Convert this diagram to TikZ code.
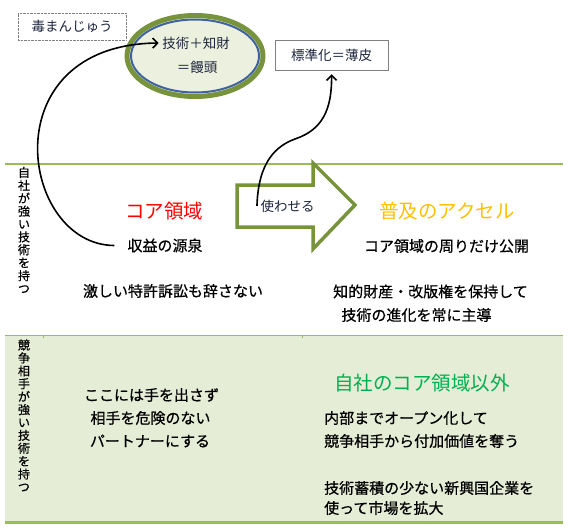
\documentclass[tikz,border=0pt]{standalone}
\usepackage{fontspec}
\setmainfont{Noto Sans CJK JP}
\newfontfamily\gothic{Noto Sans CJK JP}[FakeBold=0.6]
\usetikzlibrary{arrows.meta}
\definecolor{linegreen}{RGB}{155,187,89}
\definecolor{olivegreen}{RGB}{119,147,60}
\definecolor{bandfill}{RGB}{230,237,214}
\definecolor{ovalfill}{RGB}{235,241,222}
\definecolor{ovalblue}{RGB}{64,98,160}
\definecolor{inkblue}{RGB}{28,36,60}
\definecolor{coretitle}{RGB}{255,0,0}
\definecolor{acceltitle}{RGB}{255,192,0}
\definecolor{othertitle}{RGB}{0,176,80}

\begin{document}
\begin{tikzpicture}[x=1pt,y=-1pt,
  labelbox/.style={draw=gray,thin,inner sep=0pt,text=inkblue,
    font=\fontsize{13.5}{16}\selectfont},
  body/.style={font=\gothic\fontsize{15}{18}\selectfont,inner sep=0pt},
  title/.style={font=\fontsize{19.5}{22}\selectfont,inner sep=0pt},
  side/.style={font=\gothic\fontsize{12}{12.9}\selectfont,align=center,inner sep=0pt},
  curvearrow/.style={line width=1.6,-{Straight Barb[length=5pt,width=10pt]}}]
\useasboundingbox (0,0) rectangle (568,530);
% Draw the lower band and the rules
\fill[bandfill] (5,335) rectangle (563,522);
\draw[linegreen,line width=2] (5,163.5) -- (563,163.5);
\draw[linegreen,line width=1.5] (5,335.5) -- (563,335.5);
\draw[linegreen,line width=3] (5,522) -- (563,522);
\draw[linegreen,thin] (43,335) -- (43,338);
\draw[linegreen,thin] (302,335) -- (302,338);
% Draw the bun and the two boxes
\draw[olivegreen,line width=5,fill=ovalfill] (195,56) ellipse (68 and 40.5);
\draw[ovalblue,line width=2] (195,56) ellipse (64 and 36.5);
\node[text=inkblue,font=\fontsize{13.5}{16}\selectfont] (chizai) at (196,43) {技術＋知財};
\node[text=inkblue,font=\fontsize{13.5}{16}\selectfont] (manju) at (197,67) {＝饅頭};
\node[labelbox,densely dotted,minimum width=108,minimum height=27] (doku) at (72,26.5) {毒まんじゅう};
\node[labelbox,minimum width=113,minimum height=30] (usukawa) at (331.5,55) {標準化＝薄皮};
% Draw the block arrow
\draw[olivegreen,line width=3.5,fill=white,line join=miter]
  (237,185) -- (313,185) -- (313,163) -- (355,205) -- (313,249) -- (313,227) -- (237,227) -- cycle;
\node[text=inkblue,font=\fontsize{13.5}{16}\selectfont] (tsukawaseru) at (287.5,206) {使わせる};
% Side labels
\node[side] (jisha) at (24,230) {自\\社\\が\\強\\い\\技\\術\\を\\持\\つ};
\node[side] (kyoso) at (24,415.5) {競\\争\\相\\手\\が\\強\\い\\技\\術\\を\\持\\つ};
% Upper row
\node[title,text=coretitle] (core) at (164,211) {コア領域};
\node[title,text=acceltitle] (accel) at (447,211) {普及のアクセル};
\node[body,inner xsep=13] (gensen) at (165,245.5) {収益の源泉};
\node[body] (kokai) at (446.5,246) {コア領域の周りだけ公開};
\node[body] (sosho) at (173,291) {激しい特許訴訟も辞さない};
\node[body] (hoji) at (430.5,291.5) {知的財産・改版権を保持して};
\node[body] (shudo) at (416.5,315) {技術の進化を常に主導};
% Lower row
\node[title,text=othertitle] (igai) at (422,383) {自社のコア領域以外};
\node[body] (tewo) at (151.5,395) {ここには手を出さず};
\node[body] (kiken) at (150.5,418) {相手を危険のない};
\node[body] (partner) at (150,441) {パートナーにする};
\node[body,anchor=west] (open) at (324,418) {内部までオープン化して};
\node[body,anchor=west] (ubau) at (324,441) {競争相手から付加価値を奪う};
\node[body,anchor=west] (shinko) at (324,488) {技術蓄積の少ない新興国企業を};
\node[body,anchor=west] (kakudai) at (324,508) {使って市場を拡大};
% Draw the curved arrows
\coordinate (kink) at (295,139);
\draw[curvearrow] (gensen.west) .. controls (20,245) and (-10,45) .. (chizai.west);
\draw[curvearrow,shorten >=4pt] (tsukawaseru.west) .. controls (258,170) and (270,148) .. (kink)
  .. controls (322,130) and (332,110) .. (usukawa.south);
\end{tikzpicture}
\end{document}
